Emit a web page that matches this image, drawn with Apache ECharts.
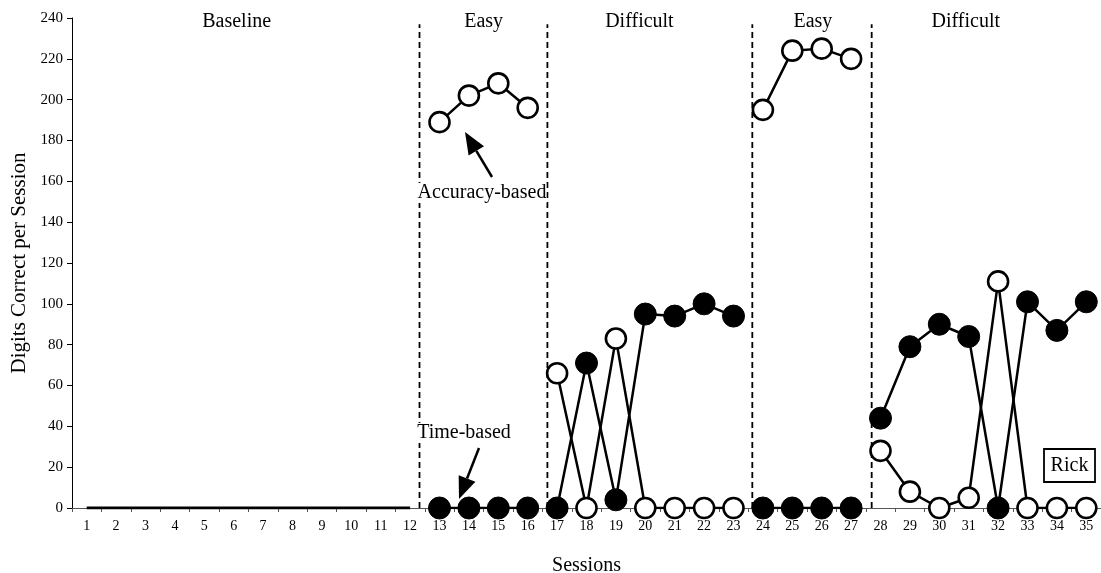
<!DOCTYPE html>
<html>
<head>
<meta charset="utf-8">
<script src="https://cdn.jsdelivr.net/npm/echarts@6/dist/echarts.min.js"></script>
<style>
  html, body { margin: 0; padding: 0; background: #fff; }
  #chart { width: 1101px; height: 573px; }
</style>
</head>
<body>
<div id="chart"></div>
<script>
// ---- data ----
const sessionLabels = ['1','2','3','4','5','6','7','8','9','10','11','12','13','14','15','16','17','18',
  '19','20','21','22','23','24','25','26','27','28','29','30','31','32','33','34','35'];
const yTicks = { min: 0, max: 240, step: 20 };
// baseline, sessions 1-12
const baselineValues = [0,0,0,0,0,0,0,0,0,0,0,0];
// sessions 13-35
const accuracyBased = [189,202,208,196, 66,0,83,0,0,0,0, 195,224,225,220, 28,8,0,5,111,0,0,0];
const timeBased     = [0,0,0,0, 0,71,4,95,94,100,94, 0,0,0,0, 44,79,90,84,0,101,87,101];
const phaseLabels = ['Baseline','Easy','Difficult','Easy','Difficult'];
const phaseStart  = [1,13,17,24,28];
const phaseEnd    = [12,16,23,27,35];
const phaseChangeAt = [12.32, 16.67, 23.64, 27.7];
const phaseLabelAt  = [6.1, 14.5, 19.8, 25.7, 30.9];
const participant = 'Rick';

// ---- build ----
const FONT = 'Liberation Serif';
const N = sessionLabels.length;
const firstTreat = phaseStart[1];

function phaseData(values, p) {
  const arr = new Array(N).fill(null);
  for (let s = phaseStart[p]; s <= phaseEnd[p]; s++) arr[s - 1] = values[s - firstTreat];
  return arr;
}

const series = [];
const baseArr = new Array(N).fill(null);
baselineValues.forEach((v, i) => { baseArr[i] = v; });
series.push({
  type: 'line', xAxisIndex: 0, yAxisIndex: 0, data: baseArr, symbol: 'none',
  lineStyle: { color: '#000', width: 3 }, z: 3, silent: true
});
phaseChangeAt.forEach(x => {
  series.push({
    type: 'line', xAxisIndex: 1, yAxisIndex: 0, data: [[x, 0], [x, 237]], symbol: 'none',
    lineStyle: { color: '#000', width: 1.8, type: [6, 4] }, z: 1, silent: true
  });
});
for (let p = 1; p < phaseStart.length; p++) {
  series.push({
    type: 'line', xAxisIndex: 0, yAxisIndex: 0, data: phaseData(timeBased, p),
    symbol: 'circle', symbolSize: 22, connectNulls: false,
    itemStyle: { color: '#000', borderColor: '#000', borderWidth: 1 },
    lineStyle: { color: '#000', width: 2.5 }, z: 4, silent: true
  });
  series.push({
    type: 'line', xAxisIndex: 0, yAxisIndex: 0, data: phaseData(accuracyBased, p),
    symbol: 'circle', symbolSize: 20, connectNulls: false,
    itemStyle: { color: '#fff', borderColor: '#000', borderWidth: 2.6 },
    lineStyle: { color: '#000', width: 2.5 }, z: 5, silent: true
  });
}

const chart = echarts.init(document.getElementById('chart'), null, { renderer: 'canvas' });
chart.setOption({
  animation: false,
  backgroundColor: '#fff',
  textStyle: { fontFamily: FONT, color: '#000' },
  grid: { left: 72, right: 0, top: 18, bottom: 65, containLabel: false, outerBoundsMode: 'none' },
  xAxis: [{
    type: 'category', data: sessionLabels, boundaryGap: true,
    axisLine: { show: true, lineStyle: { color: '#555', width: 1 } },
    axisTick: { show: true, length: 4, lineStyle: { color: '#555' } },
    axisLabel: { fontFamily: FONT, fontSize: 14, color: '#000', margin: 11, interval: 0 },
    splitLine: { show: false },
    name: 'Sessions', nameLocation: 'middle', nameGap: 48,
    nameTextStyle: { fontFamily: FONT, fontSize: 20, color: '#000' }
  }, {
    type: 'value', min: 0.5, max: 35.5, show: false
  }],
  yAxis: [{
    type: 'value', min: yTicks.min, max: yTicks.max, interval: yTicks.step,
    axisLine: { show: true, lineStyle: { color: '#000', width: 1 } },
    axisTick: { show: true, length: 5, lineStyle: { color: '#000' } },
    axisLabel: { fontFamily: FONT, fontSize: 15, color: '#000', margin: 9 },
    splitLine: { show: false },
    name: 'Digits Correct per Session', nameLocation: 'middle', nameGap: 42,
    nameTextStyle: { fontFamily: FONT, fontSize: 21, color: '#000' }
  }],
  series: series
});

// ---- annotations positioned through the axes ----
function px(x, y) { return chart.convertToPixel({ xAxisIndex: 1, yAxisIndex: 0 }, [x, y]); }
const TF = '20px "Liberation Serif"';
const graphics = [];
phaseLabels.forEach((t, i) => {
  const p = px(phaseLabelAt[i], 235);
  graphics.push({ type: 'text', x: p[0], y: 22, z: 10,
    style: { text: t, font: TF, fill: '#000', align: 'center', verticalAlign: 'middle' } });
});
function arrow(tail, tip) {
  const dx = tip[0] - tail[0], dy = tip[1] - tail[1];
  const L = Math.hypot(dx, dy), ux = dx / L, uy = dy / L;
  const hl = 22, hw = 9;
  const bx = tip[0] - ux * hl, by = tip[1] - uy * hl;
  graphics.push({ type: 'line', z: 10, shape: { x1: tail[0], y1: tail[1], x2: bx, y2: by },
    style: { stroke: '#000', lineWidth: 2.5 } });
  graphics.push({ type: 'polygon', z: 10, shape: { points: [tip, [bx - uy * hw, by + ux * hw], [bx + uy * hw, by - ux * hw]] },
    style: { fill: '#000' } });
}
graphics.push({ type: 'text', x: 482, y: 193, z: 10,
  style: { text: 'Accuracy-based', font: TF, fill: '#000', align: 'center', verticalAlign: 'middle', backgroundColor: '#fff' } });
arrow([492, 177], [465, 132]);
graphics.push({ type: 'text', x: 464, y: 433, z: 10,
  style: { text: 'Time-based', font: TF, fill: '#000', align: 'center', verticalAlign: 'middle', backgroundColor: '#fff' } });
arrow([479, 448], [459, 499]);
graphics.push({ type: 'rect', z: 10, shape: { x: 1044, y: 449, width: 51, height: 33 },
  style: { fill: '#fff', stroke: '#000', lineWidth: 1.8 } });
graphics.push({ type: 'text', x: 1069.5, y: 465.5, z: 11,
  style: { text: participant, font: TF, fill: '#000', align: 'center', verticalAlign: 'middle' } });
chart.setOption({ graphic: graphics });
</script>
</body>
</html>
